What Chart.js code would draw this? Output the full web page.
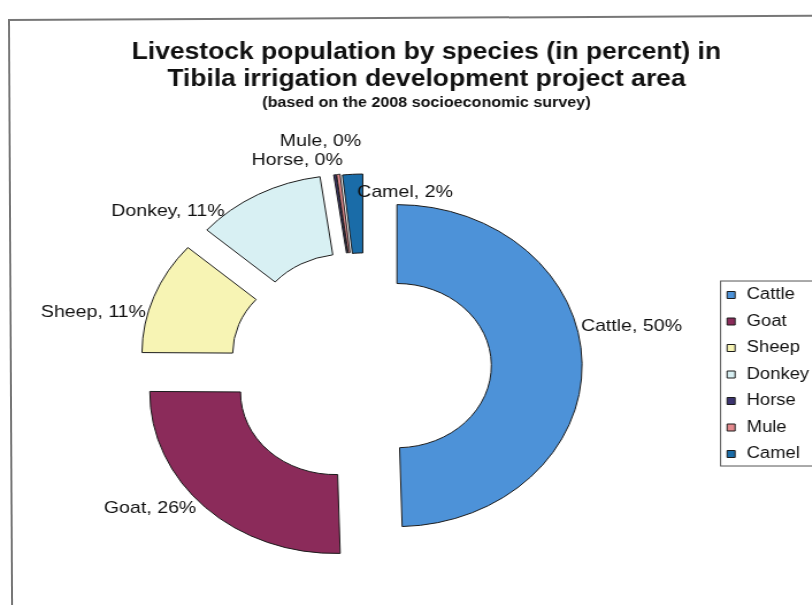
<!DOCTYPE html>
<html>
<head>
<meta charset="utf-8">
<title>Livestock population by species</title>
<script src="https://cdn.jsdelivr.net/npm/chart.js@4.4.1/dist/chart.umd.min.js"></script>
<style>
  html, body { margin: 0; padding: 0; background: #fff; overflow: hidden; width: 812px; height: 605px; }
  #frame { position: absolute; left: 8px; top: 19px; width: 900px; height: 700px;
           border-left: 2px solid #777; border-top: 2px solid #777;
           transform: rotate(-0.3deg); transform-origin: 0 0; }
  /* the scanned original is stretched sideways, so the whole chart is too */
  #wrap { position: absolute; left: 0; top: 0; width: 740px; height: 620px;
          transform: scaleX(1.15); transform-origin: 0 0; }
</style>
</head>
<body>
<div id="frame"></div>
<div id="wrap"><canvas id="livestock-chart" width="740" height="620"></canvas></div>
<script>
// data (percent of livestock, 2008 survey)
const species = ['Cattle', 'Goat', 'Sheep', 'Donkey', 'Horse', 'Mule', 'Camel'];
const shares = [49.55, 25.55, 11.35, 11.3, 0.2, 0.3, 1.75];

// styling
const colors = ['#4d92d8', '#8b2b5a', '#f7f4b4', '#d8f0f3', '#3c3470', '#e58a8e', '#1a6ca8'];
const explode = [28, 37, 35, 34, 32, 32, 31];
const labelShift = [[-1, -37], [-8, 1], [-7, 16], [-29, 17], [7, -14], [20, -33], [4, 18]];
const labelAlign = ['left', 'right', 'right', 'right', 'right', 'right', 'left'];

Chart.defaults.font.family = '"Liberation Sans", Arial, sans-serif';
Chart.defaults.color = '#111';

// pull every slice out along its own middle angle
const explodeSlices = {
  id: 'explodeSlices',
  beforeDatasetDraw(chart, args) {
    const ctx = chart.ctx;
    args.meta.data.forEach((arc, i) => {
      const mid = (arc.startAngle + arc.endAngle) / 2;
      ctx.save();
      ctx.translate(Math.cos(mid) * explode[i], Math.sin(mid) * explode[i]);
      arc.draw(ctx);
      ctx.restore();
    });
    return false;
  }
};

// "Cattle, 50%" style labels next to each slice
const sliceLabels = {
  id: 'sliceLabels',
  afterDatasetsDraw(chart) {
    const ctx = chart.ctx;
    const meta = chart.getDatasetMeta(0);
    const total = shares.reduce((a, b) => a + b, 0);
    ctx.save();
    ctx.font = '17px "Liberation Sans", Arial, sans-serif';
    ctx.fillStyle = '#111';
    ctx.textBaseline = 'middle';
    meta.data.forEach((arc, i) => {
      const mid = (arc.startAngle + arc.endAngle) / 2;
      const r = arc.outerRadius + explode[i];
      const x = arc.x + Math.cos(mid) * r + labelShift[i][0];
      const y = arc.y + Math.sin(mid) * r + labelShift[i][1];
      ctx.textAlign = labelAlign[i];
      ctx.fillText(species[i] + ', ' + Math.round(shares[i] / total * 100) + '%', x, y);
    });
    ctx.restore();
  }
};

// box round the legend
const legendFrame = {
  id: 'legendFrame',
  afterDraw(chart) {
    const ctx = chart.ctx;
    const lg = chart.legend;
    const hb = lg.legendHitBoxes;
    const last = hb[hb.length - 1];
    const top = hb[0].top - 6;
    const bottom = last.top + last.height + 4;
    ctx.save();
    ctx.strokeStyle = '#555';
    ctx.lineWidth = 1;
    ctx.strokeRect(lg.left + 7, top, 200, bottom - top);
    ctx.restore();
  }
};

const ctx = document.getElementById('livestock-chart').getContext('2d');
const chart = new Chart(ctx, {
  type: 'doughnut',
  data: {
    labels: species,
    datasets: [{
      data: shares,
      backgroundColor: colors,
      borderColor: '#1b1b1b',
      borderWidth: 1,
      hoverOffset: 0
    }]
  },
  plugins: [explodeSlices, sliceLabels, legendFrame],
  options: {
    responsive: false,
    animation: false,
    events: [],
    radius: 161,
    cutout: '51%',
    layout: {
      padding: { left: 14.7, right: 13.1, top: 0, bottom: 8.4 }
    },
    plugins: {
      title: {
        display: true,
        text: ['Livestock population by species (in percent) in', 'Tibila irrigation development project area'],
        font: { size: 23, weight: 'bold', lineHeight: 1.17 },
        color: '#111',
        padding: { top: 39.5, bottom: 1.3 }
      },
      subtitle: {
        display: true,
        text: '(based on the 2008 socioeconomic survey)',
        font: { size: 14, weight: 'bold', lineHeight: 1.2 },
        color: '#111',
        padding: { top: 0, bottom: 9 }
      },
      legend: {
        position: 'right',
        fullSize: false,
        title: { display: true, text: '', font: { size: 17, lineHeight: 1 }, padding: 0 },
        labels: {
          usePointStyle: true,
          pointStyle: 'rect',
          boxWidth: 11.2,
          boxHeight: 7,
          padding: 10.5,
          font: { size: 16 },
          color: '#111',
          // a few trailing spaces widen the legend like the original's
          generateLabels: (c) => Chart.overrides.doughnut.plugins.legend.labels.generateLabels(c)
            .map(item => ({ ...item, text: item.text + '   ' }))
        }
      },
      tooltip: { enabled: false }
    }
  }
});
</script>
</body>
</html>
